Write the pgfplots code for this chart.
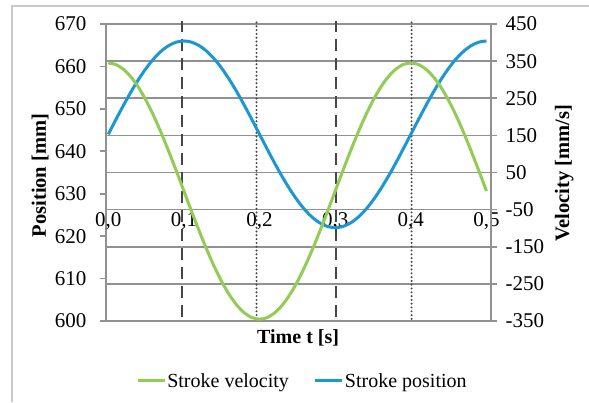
\documentclass[border=0pt]{standalone}
\usepackage{fontspec}
\setmainfont{Liberation Serif}
\usepackage{pgfplots}
\pgfplotsset{compat=1.18}
\definecolor{cgreen}{RGB}{146,204,86}
\definecolor{cblue}{RGB}{27,151,211}
\definecolor{cgrid}{RGB}{145,145,145}
\definecolor{cborder}{RGB}{200,200,200}
\definecolor{cvline}{RGB}{70,70,70}
\begin{document}
\begin{tikzpicture}[x=1pt,y=1pt]
\fill[white] (0,0) rectangle (589,402);
\draw[cborder,line width=1.5pt] (12,0) -- (12,396) -- (589,396);
\begin{axis}[
  at={(106pt,81pt)}, anchor=south west,
  scale only axis, width=385pt, height=297pt,
  xmin=-0.003, xmax=0.506, ymin=600, ymax=670,
  clip=false,
  axis y line*=left, axis x line*=bottom,
  axis line style={cgrid,line width=1.6pt},
  every inner x axis line/.append style={-},
  every inner y axis line/.append style={-},
  xtick={0,0.1,0.2,0.3,0.4,0.5},
  x tick style={draw=none},
  xticklabel style={yshift=118pt},
  /pgf/number format/assume math mode=true,
  x tick label style={/pgf/number format/.cd,use comma,fixed,fixed zerofill,precision=1},
  ytick={600,610,...,670},
  yticklabels={600,610,620,630,640,650,660,670},
  y tick style={cgrid,line width=1.6pt},
  tick align=outside, major tick length=6pt,
  yticklabel style={xshift=-10pt},
  extra y ticks={608.75,617.5,626.25,635,643.75,652.5,661.25,670},
  extra y tick labels={},
  extra y tick style={major tick length=0pt, grid=major},
  grid style={cgrid,line width=1.6pt},
  tick label style={font=\fontsize{21}{21}\selectfont},
  ylabel={\textbf{Position [mm]}},
  ylabel style={at={(axis description cs:-0.171,0.49)}, anchor=center, font=\fontsize{20.5}{20}\selectfont},
  xlabel={\textbf{Time t [s]}},
  xlabel style={at={(axis description cs:0.499,-0.057)}, anchor=center, font=\fontsize{20}{20}\selectfont},
]
\addplot[cvline, line width=1.8pt, dash pattern=on 12pt off 7pt] coordinates {(0.0975,601) (0.0975,670.8)};
\addplot[cvline, line width=1.8pt, dash pattern=on 12pt off 7pt] coordinates {(0.3015,601) (0.3015,670.8)};
\addplot[cvline, line width=2.2pt, line cap=round, dash pattern=on 0pt off 3.8pt] coordinates {(0.196,600.5) (0.196,670.8)};
\addplot[cvline, line width=2.2pt, line cap=round, dash pattern=on 0pt off 3.8pt] coordinates {(0.401,600.5) (0.401,670.8)};
\addplot[cblue, line width=3pt, smooth] coordinates {
(0.00,644.00) (0.01,647.44) (0.02,650.80) (0.03,653.99) (0.04,656.93) (0.05,659.56)
(0.06,661.80) (0.07,663.60) (0.08,664.92) (0.09,665.73) (0.10,666.00) (0.11,665.73)
(0.12,664.92) (0.13,663.60) (0.14,661.80) (0.15,659.56) (0.16,656.93) (0.17,653.99)
(0.18,650.80) (0.19,647.44) (0.20,644.00) (0.21,640.56) (0.22,637.20) (0.23,634.01)
(0.24,631.07) (0.25,628.44) (0.26,626.20) (0.27,624.40) (0.28,623.08) (0.29,622.27)
(0.30,622.00) (0.31,622.27) (0.32,623.08) (0.33,624.40) (0.34,626.20) (0.35,628.44)
(0.36,631.07) (0.37,634.01) (0.38,637.20) (0.39,640.56) (0.40,644.00) (0.41,647.44)
(0.42,650.80) (0.43,653.99) (0.44,656.93) (0.45,659.56) (0.46,661.80) (0.47,663.60)
(0.48,664.92) (0.49,665.73) (0.50,666.00)};
\end{axis}
\begin{axis}[
  at={(106pt,81pt)}, anchor=south west,
  scale only axis, width=385pt, height=297pt,
  xmin=-0.003, xmax=0.506, ymin=-350, ymax=450,
  axis y line*=right, axis x line=none,
  axis line style={cgrid,line width=1.6pt},
  every inner y axis line/.append style={-},
  ytick={-350,-250,-150,-50,50,150,250,350,450},
  yticklabels={\mbox{-350},\mbox{-250},\mbox{-150},\mbox{-50},50,150,250,350,450},
  y tick style={cgrid,line width=1.6pt},
  tick align=outside, major tick length=6pt,
  yticklabel style={xshift=5pt, anchor=west},
  tick label style={font=\fontsize{21}{21}\selectfont},
  ylabel={\textbf{Velocity [mm/s]}},
  ylabel style={at={(axis description cs:1.19,0.498)}, anchor=center, font=\fontsize{20.5}{20}\selectfont},
  legend style={at={(axis description cs:0.509,-0.202)}, anchor=center, draw=none, fill=none,
    font=\fontsize{20}{20}\selectfont, legend columns=2,
    /tikz/every even column/.append style={column sep=24pt},
    nodes={inner sep=1pt}},
  legend cell align=left,
  legend image code/.code={\draw[#1] (0pt,0pt) -- (27pt,0pt);},
]
\addplot[cgreen, line width=3pt, smooth] coordinates {
(0.00,345.0) (0.01,340.8) (0.02,328.1) (0.03,307.4) (0.04,279.1) (0.05,243.9)
(0.06,202.8) (0.07,156.6) (0.08,106.6) (0.09,54.0) (0.10,0.0) (0.11,-54.0)
(0.12,-106.6) (0.13,-156.6) (0.14,-202.8) (0.15,-243.9) (0.16,-279.1) (0.17,-307.4)
(0.18,-328.1) (0.19,-340.8) (0.20,-345.0) (0.21,-340.8) (0.22,-328.1) (0.23,-307.4)
(0.24,-279.1) (0.25,-243.9) (0.26,-202.8) (0.27,-156.6) (0.28,-106.6) (0.29,-54.0)
(0.30,0.0) (0.31,54.0) (0.32,106.6) (0.33,156.6) (0.34,202.8) (0.35,243.9)
(0.36,279.1) (0.37,307.4) (0.38,328.1) (0.39,340.8) (0.40,345.0) (0.41,340.8)
(0.42,328.1) (0.43,307.4) (0.44,279.1) (0.45,243.9) (0.46,202.8) (0.47,156.6)
(0.48,106.6) (0.49,54.0) (0.50,0.0)};
\addlegendentry{Stroke velocity}
\addlegendimage{cblue, line width=3pt}
\addlegendentry{Stroke position}
\end{axis}
\pgfresetboundingbox
\useasboundingbox (0,0) rectangle (589,402);
\end{tikzpicture}
\end{document}
